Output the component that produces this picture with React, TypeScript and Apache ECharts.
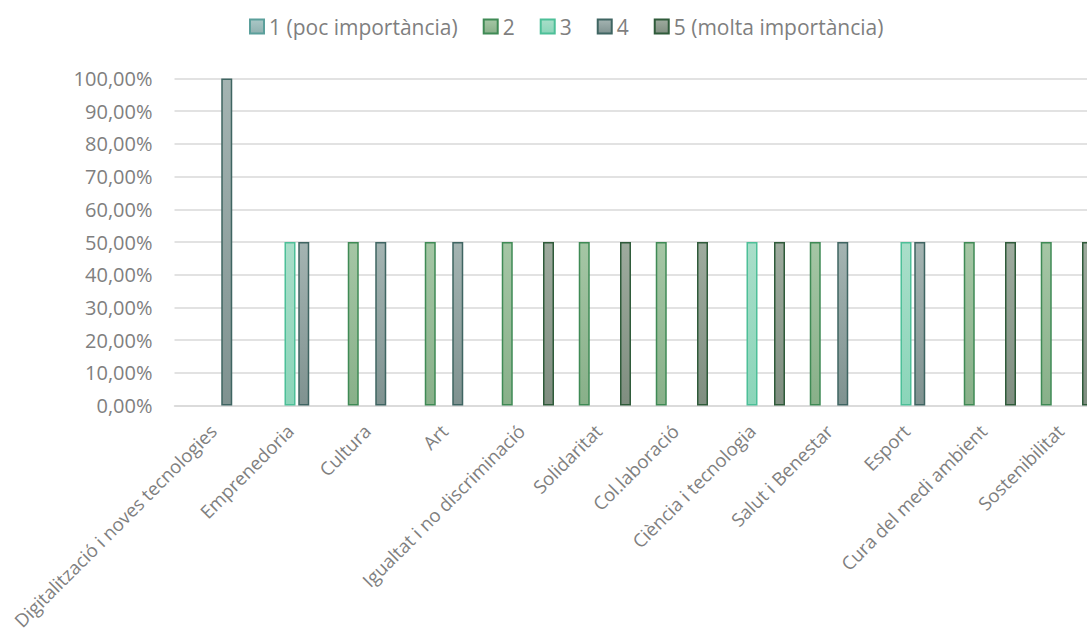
import React, { useEffect, useRef } from "react";
import * as echarts from "echarts";

const categories = [
  "Digitalització i noves tecnologies",
  "Emprenedoria",
  "Cultura",
  "Art",
  "Igualtat i no discriminació",
  "Solidaritat",
  "Col.laboració",
  "Ciència i tecnologia",
  "Salut i Benestar",
  "Esport",
  "Cura del medi ambient",
  "Sostenibilitat",
];

const seriesNames = ["1 (poc importància)", "2", "3", "4", "5 (molta importància)"];

const s1: (number | null)[] = [null, null, null, null, null, null, null, null, null, null, null, null];
const s2: (number | null)[] = [null, null, 50, 50, 50, 50, 50, null, 50, null, 50, 50];
const s3: (number | null)[] = [null, 50, null, null, null, null, null, 50, null, 50, null, null];
const s4: (number | null)[] = [100, 50, 50, 50, null, null, null, null, 50, 50, null, null];
const s5: (number | null)[] = [null, null, null, null, 50, 50, 50, 50, null, null, 50, 50];

const yTicks = [0, 10, 20, 30, 40, 50, 60, 70, 80, 90, 100];

const seriesStyles = [
  { top: "#aac7c6", bottom: "#8fb1b0", border: "#5b9f9b" },
  { top: "#a5c6a5", bottom: "#88b089", border: "#3f8a55" },
  { top: "#a9dec9", bottom: "#8ad5b9", border: "#4dbf98" },
  { top: "#a4b4b2", bottom: "#7f9290", border: "#3f6562" },
  { top: "#9eab9e", bottom: "#7f8e80", border: "#2f5b3a" },
];

const FONT = "'Open Sans', sans-serif";
const GRAY = "#7f7f7f";

export default function App() {
  const ref = useRef<HTMLDivElement>(null);
  useEffect(() => {
    if (!ref.current) return;
    const chart = echarts.init(ref.current, null, { renderer: "svg" });
    const data = [s1, s2, s3, s4, s5];
    chart.setOption({
      animation: false,
      backgroundColor: "#ffffff",
      legend: {
        top: 11,
        left: 244,
        icon: "rect",
        itemWidth: 14,
        itemHeight: 14,
        itemGap: 25,
        textStyle: { fontFamily: FONT, fontSize: 21, color: GRAY },
        data: seriesNames,
      },
      grid: {
        left: 174.5,
        top: 78.5,
        width: 924,
        height: 327,
        containLabel: false,
        outerBoundsMode: "none",
      },
      xAxis: {
        type: "category",
        data: categories,
        axisLine: { show: true, lineStyle: { color: "#d9d9d9", width: 1.5 } },
        axisTick: { show: false },
        axisLabel: {
          interval: 0,
          rotate: 45,
          margin: 22,
          verticalAlign: "middle",
          fontFamily: FONT,
          fontSize: 18.5,
          color: GRAY,
        },
      },
      yAxis: {
        type: "value",
        min: yTicks[0],
        max: yTicks[yTicks.length - 1],
        interval: 10,
        axisLine: { show: false },
        axisTick: { show: false },
        splitLine: { lineStyle: { color: "#d9d9d9", width: 1.5 } },
        axisLabel: {
          margin: 22,
          fontFamily: FONT,
          fontSize: 20,
          color: GRAY,
          formatter: (v: number) => v.toFixed(2).replace(".", ",") + "%",
        },
      },
      series: data.map((d, i) => ({
        name: seriesNames[i],
        type: "bar",
        data: d,
        barWidth: 11,
        barGap: "25%",
        itemStyle: {
          color: new echarts.graphic.LinearGradient(0, 0, 0, 1, [
            { offset: 0, color: seriesStyles[i].top },
            { offset: 1, color: seriesStyles[i].bottom },
          ]),
          borderColor: seriesStyles[i].border,
          borderWidth: 1.5,
        },
      })),
    });
    return () => chart.dispose();
  }, []);
  return (
    <div
      ref={ref}
      style={{ position: "fixed", left: 0, top: 0, width: 1087, height: 631, background: "#fff" }}
    />
  );
}
